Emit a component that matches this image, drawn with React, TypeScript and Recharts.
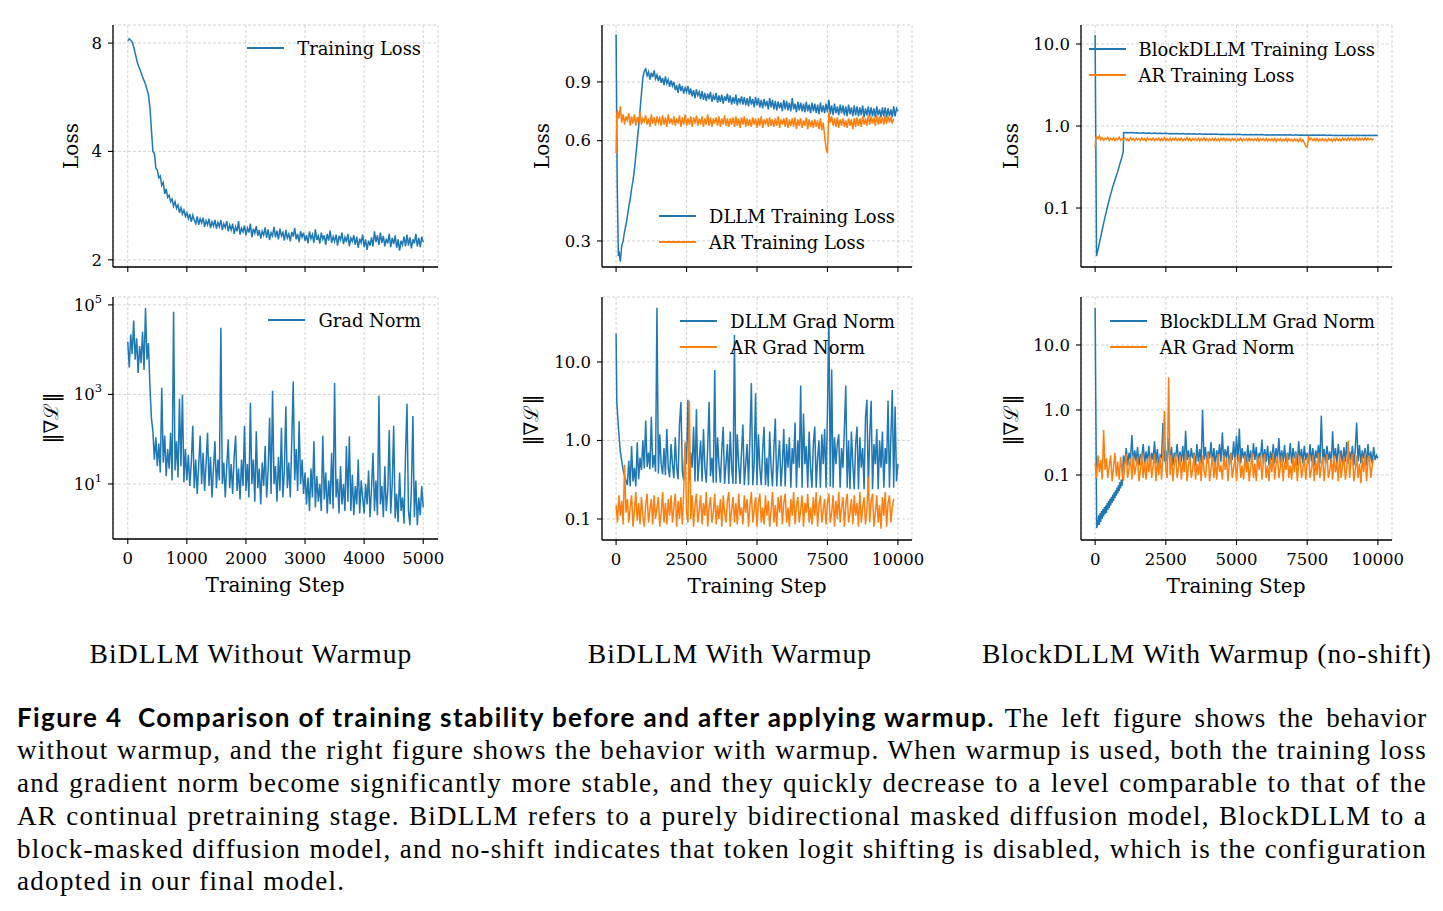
import React from "react";
import { CartesianGrid, Line, LineChart, XAxis, YAxis } from "recharts";

const BLUE = "#1f77b4";
const ORANGE = "#ff7f0e";
const PLOT_FONT = "'DejaVu Serif', serif";
const TEXT_FONT = "'Liberation Serif', serif";

// ---- x ticks ----
const ticksNoWarmup = [0, 1000, 2000, 3000, 4000, 5000];
const ticksWarmup = [0, 2500, 5000, 7500, 10000];

// ---- BiDLLM without warmup (every 25 steps, 0..5000) ----
const lossNoWarmup = [
  8.12, 8.22, 8.15, 8.05, 7.8, 7.5, 7.2, 6.95, 6.8, 6.62,
  6.45, 6.3, 6.15, 5.95, 5.75, 5.3, 4.6, 4.0, 3.95, 3.6,
  3.55, 3.38, 3.42, 3.22, 3.28, 3.05, 3.15, 2.98, 3.02, 2.9,
  2.95, 2.82, 2.9, 2.78, 2.84, 2.7, 2.79, 2.68, 2.75, 2.64,
  2.7, 2.6, 2.68, 2.55, 2.66, 2.58, 2.52, 2.64, 2.5, 2.6,
  2.53, 2.62, 2.47, 2.57, 2.5, 2.6, 2.45, 2.55, 2.48, 2.58,
  2.44, 2.54, 2.47, 2.58, 2.42, 2.52, 2.46, 2.56, 2.4, 2.5,
  2.42, 2.52, 2.36, 2.47, 2.4, 2.56, 2.35, 2.45, 2.39, 2.49,
  2.34, 2.45, 2.38, 2.52, 2.31, 2.44, 2.37, 2.48, 2.33, 2.42,
  2.29, 2.4, 2.34, 2.46, 2.3, 2.43, 2.27, 2.38, 2.33, 2.47,
  2.31, 2.41, 2.28, 2.44, 2.33, 2.38, 2.26, 2.42, 2.3, 2.36,
  2.25, 2.39, 2.32, 2.45, 2.28, 2.36, 2.24, 2.4, 2.31, 2.38,
  2.26, 2.34, 2.22, 2.4, 2.29, 2.35, 2.23, 2.43, 2.27, 2.33,
  2.22, 2.38, 2.28, 2.34, 2.2, 2.36, 2.26, 2.41, 2.23, 2.32,
  2.25, 2.35, 2.19, 2.33, 2.27, 2.38, 2.21, 2.31, 2.24, 2.36,
  2.18, 2.3, 2.25, 2.34, 2.2, 2.32, 2.16, 2.29, 2.23, 2.35,
  2.17, 2.28, 2.13, 2.26, 2.19, 2.31, 2.18, 2.4, 2.24, 2.34,
  2.2, 2.38, 2.23, 2.33, 2.18, 2.29, 2.22, 2.36, 2.17, 2.3,
  2.21, 2.34, 2.16, 2.28, 2.12, 2.26, 2.2, 2.32, 2.18, 2.35,
  2.19, 2.31, 2.15, 2.28, 2.22, 2.36, 2.18, 2.3, 2.17, 2.32,
  2.24,
];

const gradNoWarmup = [
  15000, 4000, 22000, 8000, 45000, 6000, 18000, 3000, 12000, 5000,
  25000, 3500, 85000, 6000, 14000, 1500, 300, 150, 35, 110,
  25, 80, 18, 1400, 30, 120, 15, 60, 22, 140,
  12, 70000, 20, 90, 14, 800, 25, 1000, 11, 60,
  12, 45, 9, 30, 200, 8, 35, 6, 25, 120,
  10, 50, 7, 28, 140, 9, 40, 5, 22, 90,
  8, 35, 12, 31000, 10, 30, 5, 25, 100, 8,
  28, 6, 40, 120, 7, 22, 4.5, 35, 9, 200,
  7, 28, 5, 650, 10, 35, 4, 150, 8, 22,
  3.5, 30, 9, 70, 5, 20, 300, 6, 1200, 10,
  25, 4, 40, 7, 180, 5, 20, 540, 8, 30,
  5, 90, 1950, 12, 60, 7, 250, 10, 35, 6,
  18, 3.5, 14, 2.5, 22, 5, 90, 3, 15, 4,
  10, 2.5, 120, 4.5, 18, 2.2, 12, 3.5, 50, 2.8,
  1800, 5, 13, 2.2, 25, 3.5, 10, 2.5, 70, 4,
  117, 2.5, 16, 2, 9, 3.5, 35, 2.2, 12, 5,
  2.2, 10, 3.5, 20, 1.8, 8, 50, 2.5, 12, 2,
  930, 3.5, 9, 1.8, 25, 2.5, 7, 160, 2.2, 10,
  200, 1.7, 6, 1.4, 18, 2.5, 5, 1.3, 45, 620,
  2.5, 1.2, 8, 330, 1.8, 12, 1.2, 5, 2, 9,
  3,
];

// ---- BiDLLM with warmup ----
const dllmLossHead = [[0, 1.25], [40, 0.45], [80, 0.27]];
// every 50 steps from 100
const dllmLoss = [
  0.28, 0.26, 0.29, 0.3, 0.32, 0.335, 0.355, 0.38, 0.4, 0.43,
  0.455, 0.49, 0.54, 0.6, 0.66, 0.74, 0.83, 0.93, 0.97,
  0.985, 0.94, 0.965, 0.915, 0.96, 0.93, 0.975, 0.92, 0.945, 0.905,
  0.94, 0.895, 0.925, 0.88, 0.935, 0.89, 0.915, 0.87, 0.91, 0.875,
  0.9, 0.85, 0.88, 0.835, 0.89, 0.845, 0.875, 0.83, 0.865, 0.84,
  0.875, 0.825, 0.86, 0.815, 0.85, 0.805, 0.855, 0.82, 0.84, 0.8,
  0.845, 0.795, 0.835, 0.79, 0.83, 0.8, 0.84, 0.785, 0.82, 0.795,
  0.835, 0.78, 0.82, 0.785, 0.825, 0.775, 0.815, 0.79, 0.83, 0.78,
  0.82, 0.77, 0.81, 0.775, 0.825, 0.765, 0.805, 0.78, 0.815, 0.77,
  0.81, 0.765, 0.805, 0.76, 0.815, 0.77, 0.8, 0.755, 0.81, 0.765,
  0.805, 0.755, 0.795, 0.75, 0.8, 0.76, 0.79, 0.745, 0.805, 0.755,
  0.795, 0.745, 0.79, 0.74, 0.785, 0.75, 0.78, 0.735, 0.795, 0.745,
  0.79, 0.74, 0.78, 0.735, 0.805, 0.745, 0.775, 0.73, 0.785, 0.74,
  0.78, 0.735, 0.775, 0.73, 0.785, 0.735, 0.77, 0.725, 0.78, 0.735,
  0.775, 0.725, 0.77, 0.72, 0.78, 0.73, 0.765, 0.725, 0.775, 0.73,
  0.795, 0.72, 0.765, 0.715, 0.775, 0.725, 0.76, 0.715, 0.77, 0.725,
  0.765, 0.715, 0.76, 0.71, 0.77, 0.72, 0.755, 0.71, 0.765, 0.715,
  0.76, 0.71, 0.755, 0.715, 0.765, 0.705, 0.75, 0.715, 0.76, 0.71,
  0.755, 0.71, 0.75, 0.705, 0.76, 0.715, 0.745, 0.705, 0.755, 0.71,
  0.755, 0.705, 0.75, 0.71, 0.745, 0.705, 0.76, 0.71, 0.75, 0.735,
];

const arLossHead = [[0, 0.55], [25, 0.72]];
// every 50 steps from 50
const arLoss = [
  0.74, 0.7, 0.76, 0.68, 0.72, 0.67, 0.71, 0.69, 0.725, 0.665,
  0.71, 0.675, 0.72, 0.665, 0.705, 0.68, 0.73, 0.67, 0.7, 0.685,
  0.715, 0.67, 0.7, 0.66, 0.72, 0.675, 0.705, 0.665, 0.71, 0.68,
  0.7, 0.665, 0.715, 0.67, 0.705, 0.66, 0.72, 0.675, 0.7, 0.67,
  0.71, 0.665, 0.7, 0.675, 0.715, 0.66, 0.705, 0.67, 0.72, 0.665,
  0.7, 0.67, 0.71, 0.66, 0.705, 0.675, 0.715, 0.665, 0.7, 0.67,
  0.71, 0.66, 0.7, 0.67, 0.72, 0.665, 0.705, 0.66, 0.7, 0.675,
  0.705, 0.665, 0.71, 0.66, 0.7, 0.67, 0.715, 0.665, 0.7, 0.66,
  0.7, 0.67, 0.705, 0.66, 0.71, 0.665, 0.7, 0.655, 0.705, 0.67,
  0.71, 0.66, 0.7, 0.665, 0.695, 0.66, 0.705, 0.67, 0.7, 0.655,
  0.7, 0.665, 0.71, 0.655, 0.695, 0.67, 0.7, 0.66, 0.705, 0.665,
  0.695, 0.66, 0.7, 0.665, 0.71, 0.655, 0.695, 0.67, 0.7, 0.66,
  0.705, 0.655, 0.695, 0.665, 0.7, 0.66, 0.705, 0.65, 0.695, 0.665,
  0.7, 0.655, 0.69, 0.665, 0.705, 0.65, 0.695, 0.66, 0.69, 0.655,
  0.695, 0.66, 0.69, 0.65, 0.7, 0.645, 0.68, 0.62, 0.57, 0.55,
  0.73, 0.68, 0.71, 0.665, 0.7, 0.66, 0.705, 0.655, 0.695, 0.665,
  0.7, 0.66, 0.69, 0.655, 0.7, 0.665, 0.695, 0.65, 0.7, 0.66,
  0.705, 0.665, 0.7, 0.66, 0.71, 0.67, 0.7, 0.665, 0.715, 0.67,
  0.71, 0.675, 0.705, 0.665, 0.715, 0.67, 0.71, 0.675, 0.705, 0.67,
  0.715, 0.675, 0.71, 0.68, 0.705, 0.675, 0.7,
];

const dllmGradHead = [[0, 23], [25, 3.1], [75, 1.6], [150, 0.72], [250, 0.42], [325, 0.33]];
// every 50 steps from 400
const dllmGrad = [
  0.27, 0.55, 0.26, 0.85, 0.3, 0.45, 0.26, 0.95, 0.32, 0.6,
  0.42, 1.0, 0.44, 1.8, 0.46, 0.7, 0.43, 2.0, 0.45, 0.65,
  0.4, 49, 0.38, 1.2, 0.5, 0.37, 0.8, 0.36, 1.4, 0.45,
  0.34, 0.9, 0.5, 0.33, 1.1, 0.45, 0.32, 1.6, 3.1, 0.4,
  0.31, 0.9, 0.5, 3.3, 0.31, 0.7, 0.45, 1.5, 0.3, 2.5,
  0.3, 0.55, 1.0, 0.3, 1.4, 0.45, 0.29, 0.8, 3.1, 0.35,
  0.6, 0.29, 7.9, 0.29, 1.1, 0.5, 0.29, 0.75, 1.5, 0.28,
  0.5, 0.9, 0.28, 1.3, 0.45, 0.28, 22, 0.28, 1.2, 0.5,
  0.28, 0.7, 1.6, 0.27, 0.5, 0.9, 0.27, 1.1, 5.4, 0.27,
  0.5, 4.0, 0.27, 1.2, 0.45, 0.27, 0.75, 1.5, 0.27, 0.6,
  0.26, 1.3, 0.45, 0.26, 0.8, 1.9, 0.26, 0.55, 1.0, 0.26,
  0.5, 1.4, 0.26, 0.9, 0.45, 1.1, 0.25, 0.8, 0.5, 1.7,
  0.25, 1.0, 0.45, 5.0, 0.25, 2.2, 0.5, 0.85, 0.25, 1.3,
  0.45, 0.25, 0.9, 1.5, 0.25, 0.6, 1.0, 0.25, 1.2, 0.5,
  1.4, 0.25, 2.3, 36, 0.26, 8.0, 0.25, 1.1, 0.5, 0.9,
  1.2, 0.25, 0.8, 0.45, 1.4, 5.0, 0.25, 1.0, 0.24, 1.3,
  0.5, 0.24, 0.9, 1.5, 0.24, 1.1, 0.45, 0.8, 0.24, 2.0,
  3.3, 0.24, 1.2, 3.2, 0.24, 0.9, 0.5, 1.4, 0.24, 1.0,
  0.45, 1.3, 0.25, 0.8, 0.5, 3.2, 0.25, 1.1, 4.4, 0.25,
  2.7, 0.3, 0.5,
];

// every 50 steps from 0
const arGrad = [
  0.15, 0.09, 0.2, 0.11, 0.17, 0.085, 0.49, 0.12, 0.18, 0.09,
  0.14, 0.2, 0.08, 0.13, 0.22, 0.095, 0.16, 0.085, 0.19, 0.11,
  0.08, 0.15, 0.21, 0.09, 0.13, 0.18, 0.085, 0.2, 0.1, 0.14,
  0.19, 0.08, 0.12, 0.22, 0.09, 0.16, 0.085, 0.18, 0.11, 0.2,
  0.09, 0.14, 0.21, 0.08, 0.17, 0.1, 0.19, 0.085, 0.23, 0.97,
  0.12, 0.09, 3.2, 0.1, 0.2, 0.08, 0.15, 0.21, 0.09, 0.13,
  0.2, 0.085, 0.16, 0.11, 0.22, 0.08, 0.14, 0.19, 0.09, 0.12,
  0.21, 0.085, 0.15, 0.1, 0.18, 0.08, 0.2, 0.12, 0.09, 0.17,
  0.22, 0.08, 0.13, 0.19, 0.09, 0.16, 0.085, 0.21, 0.11, 0.14,
  0.085, 0.2, 0.12, 0.18, 0.08, 0.15, 0.22, 0.09, 0.13, 0.19,
  0.08, 0.16, 0.21, 0.09, 0.14, 0.085, 0.2, 0.11, 0.17, 0.08,
  0.13, 0.22, 0.09, 0.15, 0.08, 0.19, 0.12, 0.2, 0.085, 0.16,
  0.21, 0.09, 0.14, 0.08, 0.18, 0.11, 0.22, 0.085, 0.15, 0.19,
  0.09, 0.13, 0.2, 0.08, 0.16, 0.12, 0.21, 0.09, 0.14, 0.085,
  0.19, 0.11, 0.22, 0.08, 0.15, 0.2, 0.09, 0.13, 0.18, 0.085,
  0.16, 0.21, 0.09, 0.12, 0.2, 0.08, 0.17, 0.1, 0.22, 0.09,
  0.14, 0.19, 0.08, 0.15, 0.21, 0.09, 0.12, 0.18, 0.085, 0.2,
  0.11, 0.16, 0.08, 0.22, 0.09, 0.14, 0.19, 0.085, 0.13, 0.34,
  0.09, 0.17, 0.21, 0.08, 0.12, 0.2, 0.09, 0.15, 0.075, 0.19,
  0.11, 0.22, 0.08, 0.16, 0.2, 0.09, 0.14, 0.18,
];

// ---- BlockDLLM with warmup (no-shift) ----
const blockLossHead = [
  [0, 12.9], [50, 0.026], [100, 0.031], [175, 0.041], [250, 0.054], [350, 0.078],
  [450, 0.108], [525, 0.137], [620, 0.18], [700, 0.22], [800, 0.28], [880, 0.35],
  [940, 0.41], [995, 0.486], [1005, 0.83],
];
// every 100 steps from 1100
const blockLoss = [
  0.835, 0.826, 0.832, 0.822, 0.828, 0.818, 0.826, 0.815, 0.822, 0.812,
  0.82, 0.81, 0.817, 0.808, 0.815, 0.806, 0.813, 0.804, 0.81, 0.802,
  0.808, 0.8, 0.806, 0.798, 0.805, 0.796, 0.803, 0.795, 0.8, 0.793,
  0.799, 0.792, 0.797, 0.79, 0.796, 0.788, 0.794, 0.787, 0.792, 0.786,
  0.791, 0.784, 0.79, 0.783, 0.788, 0.782, 0.787, 0.78, 0.786, 0.779,
  0.785, 0.778, 0.784, 0.777, 0.783, 0.776, 0.782, 0.775, 0.781, 0.774,
  0.78, 0.774, 0.779, 0.772, 0.778, 0.771, 0.777, 0.77, 0.776, 0.77,
  0.775, 0.769, 0.775, 0.768, 0.774, 0.768, 0.773, 0.767, 0.773, 0.767,
  0.772, 0.766, 0.772, 0.766, 0.771, 0.765, 0.771, 0.765, 0.77, 0.768,
];

const blockGradHead = [[0, 37], [55, 0.0153]];
// every 25 steps from 100 (warmup ramp)
const blockGradRamp = [
  0.018, 0.024, 0.017, 0.026, 0.019, 0.028, 0.021, 0.03, 0.023, 0.032,
  0.025, 0.034, 0.026, 0.037, 0.029, 0.04, 0.031, 0.043, 0.034, 0.046,
  0.037, 0.05, 0.04, 0.054, 0.044, 0.058, 0.048, 0.064, 0.052, 0.07,
  0.057, 0.078, 0.062, 0.085, 0.068, 0.095,
];
// every 50 steps from 1000
const blockGrad = [
  0.2, 0.15, 0.26, 0.14, 0.22, 0.17, 0.41, 0.15, 0.24, 0.16,
  0.27, 0.14, 0.21, 0.18, 0.3, 0.15, 0.23, 0.16, 0.28, 0.14,
  0.22, 0.17, 0.33, 0.15, 0.25, 0.14, 0.2, 0.18, 0.63, 0.16,
  0.24, 0.15, 0.36, 0.17, 0.27, 0.14, 0.22, 0.19, 0.3, 0.15,
  0.23, 0.16, 0.28, 0.14, 0.48, 0.17, 0.24, 0.15, 0.26, 0.18,
  0.22, 0.14, 0.3, 0.16, 0.25, 0.15, 1.0, 0.17, 0.27, 0.15,
  0.23, 0.18, 0.32, 0.15, 0.26, 0.14, 0.24, 0.17, 0.3, 0.16,
  0.45, 0.15, 0.25, 0.18, 0.28, 0.14, 0.22, 0.17, 0.33, 0.15,
  0.4, 0.16, 0.52, 0.15, 0.26, 0.18, 0.23, 0.14, 0.29, 0.16,
  0.24, 0.15, 0.31, 0.17, 0.27, 0.14, 0.22, 0.18, 0.35, 0.15,
  0.25, 0.16, 0.28, 0.14, 0.23, 0.17, 0.3, 0.15, 0.26, 0.18,
  0.37, 0.15, 0.24, 0.16, 0.29, 0.14, 0.22, 0.17, 0.31, 0.15,
  0.26, 0.18, 0.23, 0.14, 0.33, 0.16, 0.25, 0.15, 0.28, 0.17,
  0.22, 0.15, 0.3, 0.16, 0.26, 0.14, 0.24, 0.18, 0.29, 0.15,
  0.82, 0.16, 0.25, 0.15, 0.28, 0.17, 0.23, 0.14, 0.47, 0.16,
  0.26, 0.15, 0.3, 0.18, 0.24, 0.14, 0.27, 0.16, 0.32, 0.15,
  0.23, 0.17, 0.28, 0.14, 0.25, 0.64, 0.16, 0.29, 0.15, 0.24,
  0.18, 0.26, 0.14, 0.3, 0.16, 0.23, 0.15, 0.27, 0.17, 0.2,
  0.18,
];

// ---- text ----
const columnTitles = ["BiDLLM Without Warmup", "BiDLLM With Warmup", "BlockDLLM With Warmup (no-shift)"];
const captionHead = "Figure 4  Comparison of training stability before and after applying warmup.";
const captionLines = [
  "The left figure shows the behavior",
  "without warmup, and the right figure shows the behavior with warmup. When warmup is used, both the training loss",
  "and gradient norm become significantly more stable, and they quickly decrease to a level comparable to that of the",
  "AR continual pretraining stage. BiDLLM refers to a purely bidirectional masked diffusion model, BlockDLLM to a",
  "block-masked diffusion model, and no-shift indicates that token logit shifting is disabled, which is the configuration",
  "adopted in our final model.",
];

type Pt = { step: number; v: number };
const every = (start: number, stride: number, values: number[]): Pt[] =>
  values.map((v, i) => ({ step: start + i * stride, v }));
const pairs = (rows: number[][]): Pt[] => rows.map(([step, v]) => ({ step, v }));

const noWarmupLoss = every(0, 25, lossNoWarmup);
const noWarmupGrad = every(0, 25, gradNoWarmup);
const dllmLossPts = [...pairs(dllmLossHead), ...every(100, 50, dllmLoss)];
const arLossPts = [...pairs(arLossHead), ...every(50, 50, arLoss)];
const dllmGradPts = [...pairs(dllmGradHead), ...every(400, 50, dllmGrad)];
const arGradPts = every(0, 50, arGrad);
const blockLossPts = [...pairs(blockLossHead), ...every(1100, 100, blockLoss)];
const blockGradPts = [...pairs(blockGradHead), ...every(100, 25, blockGradRamp), ...every(1000, 50, blockGrad)];

// ---- layout ----
const Y_W = 90;
const X_H = 40;
const PAD = 10;
const RIGHT = 40;
const LINE_W = 1.5;
const TICK_STYLE = { fontSize: 16.5, fill: "#000", fontFamily: PLOT_FONT };

interface Series { key: string; data: Pt[]; color: string; }
interface PanelProps {
  left: number; top: number; width: number; height: number;
  xDomain: [number, number]; xTicks: number[]; xLabels: boolean;
  yDomain: [number, number]; yTicks: number[];
  yFormat?: (v: number) => string; powerTicks?: boolean;
  lines: Series[];
}

const PowerTick = (props: any) => {
  const { x, y, payload } = props;
  const exp = Math.round(Math.log10(payload.value));
  return (
    <text x={x} y={y} dy={6} textAnchor="end" fontFamily={PLOT_FONT} fontSize={16.5} fill="#000">
      10<tspan dy={-8} fontSize={11.5}>{exp}</tspan>
    </text>
  );
};

function Panel(p: PanelProps) {
  return (
    <div style={{ position: "absolute", left: p.left - Y_W, top: p.top - PAD }}>
      <LineChart
        width={p.width + Y_W + RIGHT}
        height={p.height + PAD + X_H}
        margin={{ top: PAD, right: RIGHT, bottom: 0, left: 0 }}
      >
        <CartesianGrid stroke="#c6c6c6" strokeDasharray="3 2" strokeWidth={0.8} />
        <XAxis
          type="number"
          dataKey="step"
          domain={p.xDomain}
          ticks={p.xTicks}
          allowDataOverflow
          height={X_H}
          tickSize={5}
          tickMargin={8}
          axisLine={{ stroke: "#000", strokeWidth: 1.3 }}
          tickLine={{ stroke: "#000", strokeWidth: 1.1 }}
          tick={TICK_STYLE}
          tickFormatter={(v: number) => (p.xLabels ? String(v) : "")}
        />
        <YAxis
          type="number"
          scale="log"
          dataKey="v"
          domain={p.yDomain}
          ticks={p.yTicks}
          allowDataOverflow
          width={Y_W}
          tickSize={5}
          tickMargin={6}
          axisLine={{ stroke: "#000", strokeWidth: 1.3 }}
          tickLine={{ stroke: "#000", strokeWidth: 1.1 }}
          tick={p.powerTicks ? <PowerTick /> : TICK_STYLE}
          tickFormatter={p.yFormat}
        />
        {p.lines.map((s) => (
          <Line
            key={s.key}
            data={s.data}
            dataKey="v"
            type="linear"
            stroke={s.color}
            strokeWidth={LINE_W}
            dot={false}
            activeDot={false}
            isAnimationActive={false}
          />
        ))}
      </LineChart>
    </div>
  );
}

function PlotLegend({ right, top, items }: { right: number; top: number; items: { label: string; color: string }[] }) {
  return (
    <div style={{ position: "absolute", right: 1443 - right, top: top - 13, fontFamily: PLOT_FONT, fontSize: 17.9 }}>
      {items.map((it) => (
        <div key={it.label} style={{ display: "flex", alignItems: "center", height: 26, whiteSpace: "nowrap" }}>
          <span style={{ display: "inline-block", width: 37, height: 2, background: it.color, marginRight: 13 }} />
          <span>{it.label}</span>
        </div>
      ))}
    </div>
  );
}

function AxisTitle({ x, y, text, rotate }: { x: number; y: number; text: string; rotate?: boolean }) {
  return (
    <div
      style={{
        position: "absolute", left: x, top: y, fontFamily: PLOT_FONT, fontSize: 20, whiteSpace: "nowrap",
        transform: `translate(-50%, -50%)${rotate ? " rotate(-90deg)" : ""}`,
      }}
    >
      {text}
    </div>
  );
}

const dec1 = (v: number) => v.toFixed(1);

export default function App() {
  const warmDomain: [number, number] = [-500, 10500];
  return (
    <div style={{ position: "absolute", left: 0, top: 0, width: 1443, height: 911, background: "#fff", overflow: "hidden" }}>
      {/* column 1 */}
      <Panel left={113} top={25} width={325} height={242} xDomain={[-250, 5250]} xTicks={ticksNoWarmup} xLabels={false}
        yDomain={[1.91, 8.98]} yTicks={[2, 4, 8]}
        lines={[{ key: "loss", data: noWarmupLoss, color: BLUE }]} />
      <Panel left={113} top={297} width={325} height={242} xDomain={[-250, 5250]} xTicks={ticksNoWarmup} xLabels
        yDomain={[0.59, 150000]} yTicks={[10, 1000, 100000]} powerTicks
        lines={[{ key: "grad", data: noWarmupGrad, color: BLUE }]} />

      {/* column 2 */}
      <Panel left={602} top={25} width={310} height={242} xDomain={warmDomain} xTicks={ticksWarmup} xLabels={false}
        yDomain={[0.2506, 1.334]} yTicks={[0.3, 0.6, 0.9]} yFormat={dec1}
        lines={[{ key: "dllm", data: dllmLossPts, color: BLUE }, { key: "ar", data: arLossPts, color: ORANGE }]} />
      <Panel left={602} top={297} width={310} height={243} xDomain={warmDomain} xTicks={ticksWarmup} xLabels
        yDomain={[0.054, 67.3]} yTicks={[0.1, 1, 10]} yFormat={dec1}
        lines={[{ key: "dllm", data: dllmGradPts, color: BLUE }, { key: "ar", data: arGradPts, color: ORANGE }]} />

      {/* column 3 */}
      <Panel left={1081} top={25} width={311} height={242} xDomain={warmDomain} xTicks={ticksWarmup} xLabels={false}
        yDomain={[0.0191, 17.05]} yTicks={[0.1, 1, 10]} yFormat={dec1}
        lines={[{ key: "block", data: blockLossPts, color: BLUE }, { key: "ar", data: arLossPts, color: ORANGE }]} />
      <Panel left={1081} top={297} width={311} height={243} xDomain={warmDomain} xTicks={ticksWarmup} xLabels
        yDomain={[0.01, 54.7]} yTicks={[0.1, 1, 10]} yFormat={dec1}
        lines={[{ key: "block", data: blockGradPts, color: BLUE }, { key: "ar", data: arGradPts, color: ORANGE }]} />

      <PlotLegend right={421} top={48} items={[{ label: "Training Loss", color: BLUE }]} />
      <PlotLegend right={421} top={320} items={[{ label: "Grad Norm", color: BLUE }]} />
      <PlotLegend right={895} top={216} items={[{ label: "DLLM Training Loss", color: BLUE }, { label: "AR Training Loss", color: ORANGE }]} />
      <PlotLegend right={895} top={321} items={[{ label: "DLLM Grad Norm", color: BLUE }, { label: "AR Grad Norm", color: ORANGE }]} />
      <PlotLegend right={1375} top={49} items={[{ label: "BlockDLLM Training Loss", color: BLUE }, { label: "AR Training Loss", color: ORANGE }]} />
      <PlotLegend right={1375} top={321} items={[{ label: "BlockDLLM Grad Norm", color: BLUE }, { label: "AR Grad Norm", color: ORANGE }]} />

      <AxisTitle x={71} y={146} text="Loss" rotate />
      <AxisTitle x={542} y={146} text="Loss" rotate />
      <AxisTitle x={1011} y={146} text="Loss" rotate />
      <AxisTitle x={50} y={418} text={"\u2016\u2207\u2112\u2016"} rotate />
      <AxisTitle x={530} y={420} text={"\u2016\u2207\u2112\u2016"} rotate />
      <AxisTitle x={1010} y={420} text={"\u2016\u2207\u2112\u2016"} rotate />
      <AxisTitle x={275} y={585} text="Training Step" />
      <AxisTitle x={757} y={586} text="Training Step" />
      <AxisTitle x={1236} y={586} text="Training Step" />

      {columnTitles.map((t, i) => (
        <div key={t} style={{
          position: "absolute", left: [251, 730, 1207][i], top: 654, transform: "translate(-50%, -50%)",
          fontFamily: TEXT_FONT, fontSize: 27.5, letterSpacing: 1.1, whiteSpace: "nowrap",
        }}>{t}</div>
      ))}

      <div style={{ position: "absolute", left: 17, top: 700.5, width: 1410, fontFamily: TEXT_FONT, fontSize: 27, letterSpacing: 1.3, lineHeight: "32.8px", color: "#000" }}>
        {captionLines.map((line, i) => (
          <div key={i} style={{ whiteSpace: "nowrap", textAlign: "justify", textAlignLast: i < captionLines.length - 1 ? "justify" : "left" }}>
            {i === 0 && (
              <span style={{
                display: "inline-block", whiteSpace: "pre", marginRight: 10,
                fontFamily: "Lato, 'Noto Sans', sans-serif", fontWeight: 700, letterSpacing: 1.4, fontSize: 26,
              }}>{captionHead}</span>
            )}
            {i === 0 ? <span style={{ letterSpacing: 0.8 }}>{line}</span> : line}
          </div>
        ))}
      </div>
    </div>
  );
}
